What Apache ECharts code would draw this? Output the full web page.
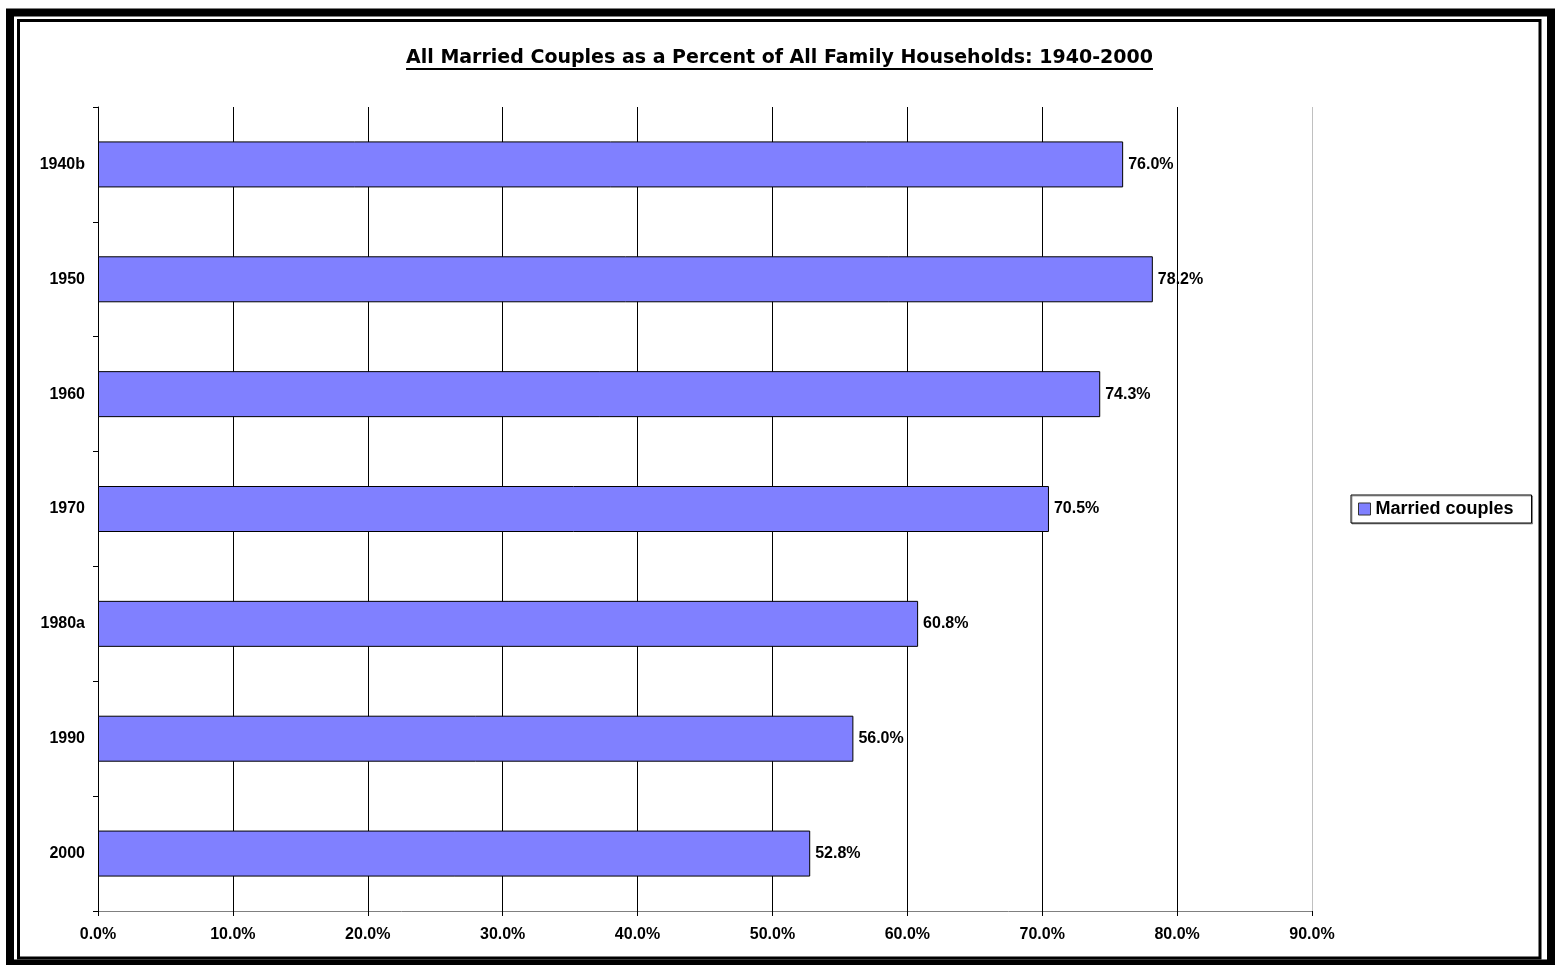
<!DOCTYPE html>
<html><head><meta charset="utf-8">
<script src="https://cdn.jsdelivr.net/npm/echarts@6/dist/echarts.min.js"></script>
<style>html,body{margin:0;padding:0;background:#fff;}#c{width:1557px;height:965px;}</style>
</head><body><div id="c"></div>
<script>
const categories = ['1940b','1950','1960','1970','1980a','1990','2000'];
const marriedCouples = [76.0, 78.2, 74.3, 70.5, 60.8, 56.0, 52.8];
const seriesName = 'Married couples';
const titleText = 'All Married Couples as a Percent of All Family Households: 1940-2000';

const FF = '"Liberation Sans", Arial, sans-serif';
const titleFont = 'bold 19px "DejaVu Sans", sans-serif';
const mctx = document.createElement('canvas').getContext('2d');
mctx.font = titleFont;
const titleW = mctx.measureText(titleText).width;
const titleCx = 779.5, titleCy = 58;

const chart = echarts.init(document.getElementById('c'));
chart.setOption({
  animation: false,
  textStyle: {fontFamily: FF},
  graphic: [
    {type:'rect', shape:{x:10, y:12.5, width:1541, height:951}, style:{fill:'none', stroke:'#000', lineWidth:8}},
    {type:'rect', shape:{x:18.5, y:20.5, width:1521.5, height:937.5}, style:{fill:'none', stroke:'#000', lineWidth:3}},
    {type:'text', x:titleCx, y:titleCy, style:{text:titleText, font:titleFont, fill:'#000', align:'center', verticalAlign:'middle'}},
    {type:'line', shape:{x1:titleCx - titleW/2, y1:69, x2:titleCx + titleW/2, y2:69}, style:{stroke:'#000', lineWidth:2}}
  ],
  legend: {
    data:[seriesName], left:1351, top:495, orient:'vertical',
    backgroundColor:'#fff', borderColor:'#000', borderWidth:1, padding:[5,18,5,7],
    shadowColor:'rgba(0,0,0,0.35)', shadowOffsetX:1, shadowOffsetY:1, shadowBlur:0,
    itemWidth:12, itemHeight:12, itemGap:0, icon:'rect',
    itemStyle:{borderColor:'#333', borderWidth:1},
    textStyle:{fontFamily:FF, fontWeight:'bold', fontSize:18, color:'#000'}
  },
  grid: {left:98, right:245, top:107, bottom:54, containLabel:false},
  xAxis: {
    type:'value', min:0, max:90, interval:10,
    axisLine:{show:true, lineStyle:{color:'#808080', width:1}},
    axisTick:{show:true, length:5, lineStyle:{color:'#000'}},
    axisLabel:{formatter:v=>v.toFixed(1)+'%', fontWeight:'bold', fontSize:16, color:'#000', margin:16, fontFamily:FF},
    splitLine:{show:true, lineStyle:{color:['#000','#000','#000','#000','#000','#000','#000','#000','#000','#c0c0c0'], width:1}}
  },
  yAxis: {
    type:'category', data:categories, inverse:true,
    axisLine:{show:true, lineStyle:{color:'#000', width:1}},
    axisTick:{show:true, length:5, alignWithLabel:false, lineStyle:{color:'#000'}},
    axisLabel:{fontWeight:'bold', fontSize:16, color:'#000', margin:13, fontFamily:FF},
    splitLine:{show:false}
  },
  series: [{
    name:seriesName, type:'bar', data:marriedCouples, barWidth:46,
    itemStyle:{color:'#8080FF', borderColor:'#000', borderWidth:1},
    label:{show:true, position:'right', distance:5, formatter:p=>p.value.toFixed(1)+'%',
      fontWeight:'bold', fontSize:16, color:'#000', fontFamily:FF}
  }]
});
</script></body></html>
